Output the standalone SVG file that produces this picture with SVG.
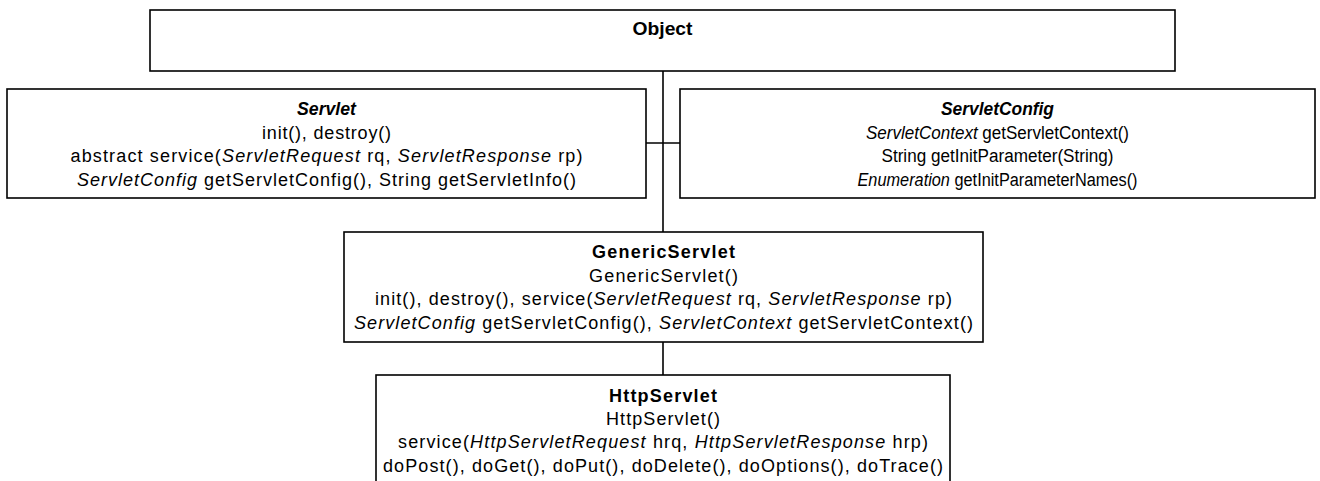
<svg xmlns="http://www.w3.org/2000/svg" width="1320" height="481" viewBox="0 0 1320 481">
<style>
.box{fill:#fff;stroke:#000;stroke-width:1.6}
.con{fill:none;stroke:#000;stroke-width:1.6}
text{font-family:"Liberation Sans",Arial,sans-serif;font-size:18px;fill:#000;text-anchor:middle}
.b{font-weight:bold}
.i{font-style:italic}
</style>
<rect width="1320" height="481" fill="#fff"/>
<g id="connectors">
<line class="con" x1="663" y1="71" x2="663" y2="232"/>
<line class="con" x1="646" y1="143" x2="680" y2="143"/>
<line class="con" x1="663" y1="342" x2="663" y2="375"/>
</g>
<g id="object">
<rect class="box" x="150" y="10" width="1025" height="61"/>
<text class="b" x="662.5" y="35" textLength="60" lengthAdjust="spacingAndGlyphs">Object</text>
</g>
<g id="servlet">
<rect class="box" x="7" y="89" width="639" height="109"/>
<text class="b i" x="326.5" y="115" textLength="59" lengthAdjust="spacingAndGlyphs">Servlet</text>
<text x="326.5" y="138.5" textLength="129" lengthAdjust="spacing">init(), destroy()</text>
<text x="326.5" y="162" textLength="512" lengthAdjust="spacing">abstract service(<tspan class="i">ServletRequest</tspan> rq, <tspan class="i">ServletResponse</tspan> rp)</text>
<text x="326.5" y="185.5" textLength="499" lengthAdjust="spacing"><tspan class="i">ServletConfig</tspan> getServletConfig(), String getServletInfo()</text>
</g>
<g id="servletconfig">
<rect class="box" x="680" y="89" width="635" height="109"/>
<text class="b i" x="997.5" y="115" textLength="113" lengthAdjust="spacingAndGlyphs">ServletConfig</text>
<text x="997.5" y="138.5" textLength="263" lengthAdjust="spacingAndGlyphs"><tspan class="i">ServletContext</tspan> getServletContext()</text>
<text x="997.5" y="162" textLength="232" lengthAdjust="spacingAndGlyphs">String getInitParameter(String)</text>
<text x="997.5" y="185.5" textLength="280" lengthAdjust="spacingAndGlyphs"><tspan class="i">Enumeration</tspan> getInitParameterNames()</text>
</g>
<g id="genericservlet">
<rect class="box" x="344" y="232" width="639" height="110"/>
<text class="b" x="663.5" y="258" textLength="143" lengthAdjust="spacing">GenericServlet</text>
<text x="663.5" y="281.5" textLength="149" lengthAdjust="spacing">GenericServlet()</text>
<text x="663.5" y="305" textLength="577" lengthAdjust="spacing">init(), destroy(), service(<tspan class="i">ServletRequest</tspan> rq, <tspan class="i">ServletResponse</tspan> rp)</text>
<text x="663.5" y="328.5" textLength="619" lengthAdjust="spacing"><tspan class="i">ServletConfig</tspan> getServletConfig(), <tspan class="i">ServletContext</tspan> getServletContext()</text>
</g>
<g id="httpservlet">
<rect class="box" x="376" y="375" width="574" height="120"/>
<text class="b" x="663" y="401.5" textLength="108" lengthAdjust="spacing">HttpServlet</text>
<text x="663" y="425" textLength="114" lengthAdjust="spacing">HttpServlet()</text>
<text x="663" y="448" textLength="530" lengthAdjust="spacing">service(<tspan class="i">HttpServletRequest</tspan> hrq, <tspan class="i">HttpServletResponse</tspan> hrp)</text>
<text x="663" y="471.5" textLength="560" lengthAdjust="spacing">doPost(), doGet(), doPut(), doDelete(), doOptions(), doTrace()</text>
</g>
</svg>
